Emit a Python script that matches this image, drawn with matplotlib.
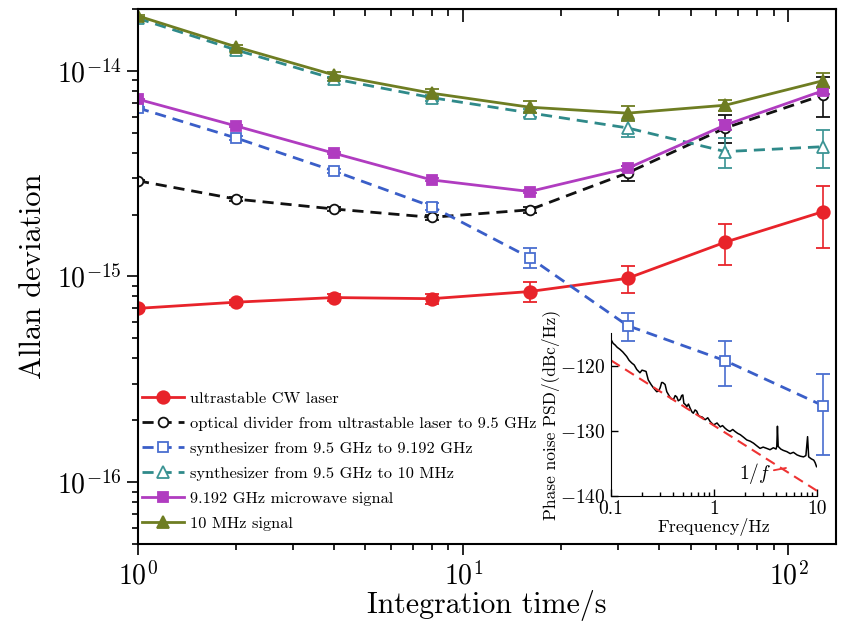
import numpy as np
import matplotlib
matplotlib.use("Agg")
import matplotlib.pyplot as plt
from matplotlib.lines import Line2D

plt.rcParams['font.family'] = ['cmr10', 'DejaVu Serif']
plt.rcParams['mathtext.fontset'] = 'cm'
plt.rcParams['axes.formatter.use_mathtext'] = True
plt.rcParams['axes.unicode_minus'] = False

# Averaging times (s)
tau = [1, 2, 4, 8, 16, 32, 64, 128]

# Allan deviation of each chain element
laser = [7.0e-16, 7.5e-16, 7.9e-16, 7.8e-16, 8.45e-16, 9.8e-16, 1.47e-15, 2.07e-15]
laser_err = [0.02e-15, 0.02e-15, 0.03e-15, 0.045e-15, 0.095e-15, 0.15e-15, 0.33e-15, 0.7e-15]

divider = [2.92e-15, 2.38e-15, 2.13e-15, 1.94e-15, 2.11e-15, 3.19e-15, 5.28e-15, 7.64e-15]
divider_err = [0.03e-15, 0.05e-15, 0.05e-15, 0.06e-15, 0.08e-15, 0.26e-15, 0.8e-15, 1.7e-15]

synth_9192 = [6.6e-15, 4.72e-15, 3.26e-15, 2.19e-15, 1.236e-15, 5.77e-16, 3.89e-16, 2.35e-16]
synth_9192_err = [0.1e-15, 0.1e-15, 0.08e-15, 0.08e-15, 0.135e-15, 0.09e-15, 0.094e-15, 0.1e-15]

synth_10m = [1.80e-14, 1.265e-14, 9.15e-15, 7.41e-15, 6.25e-15, 5.28e-15, 4.05e-15, 4.28e-15]
synth_10m_err = [0.2e-15, 0.2e-15, 0.2e-15, 0.25e-15, 0.3e-15, 0.5e-15, 0.68e-15, 0.9e-15]

microwave = [7.28e-15, 5.40e-15, 3.98e-15, 2.95e-15, 2.59e-15, 3.36e-15, 5.46e-15, 8.02e-15]
microwave_err = [0.05e-15, 0.05e-15, 0.05e-15, 0.05e-15, 0.05e-15, 0.1e-15, 0.3e-15, 0.3e-15]

signal_10m = [1.85e-14, 1.31e-14, 9.56e-15, 7.79e-15, 6.66e-15, 6.23e-15, 6.81e-15, 8.97e-15]
signal_10m_err = [0.2e-15, 0.2e-15, 0.3e-15, 0.35e-15, 0.45e-15, 0.5e-15, 0.4e-15, 0.75e-15]

labels = [
    "ultrastable CW laser",
    "optical divider from ultrastable laser to 9.5 GHz",
    "synthesizer from 9.5 GHz to 9.192 GHz",
    "synthesizer from 9.5 GHz to 10 MHz",
    "9.192 GHz microwave signal",
    "10 MHz signal",
]

# Phase noise PSD of the reference (inset)
psd_freq = [0.1, 0.105, 0.109, 0.115, 0.122, 0.13, 0.142, 0.15, 0.159, 0.168, 0.178, 0.191,
            0.2, 0.21, 0.219, 0.23, 0.245, 0.258, 0.278, 0.29, 0.3, 0.31, 0.318, 0.335,
            0.348, 0.369, 0.385, 0.404, 0.42, 0.435, 0.45, 0.47, 0.485, 0.498, 0.51,
            0.53, 0.544, 0.565, 0.585, 0.61, 0.63, 0.655, 0.68, 0.705, 0.73, 0.77, 0.82,
            0.87, 0.92, 0.99, 1.07, 1.15, 1.21, 1.28, 1.35, 1.43, 1.52, 1.6, 1.7, 1.8,
            1.94, 2.08, 2.25, 2.42, 2.6, 2.8, 3.0, 3.25, 3.5, 3.77, 4.0, 4.07, 4.13,
            4.2, 4.45, 4.7, 5.1, 5.5, 5.9, 6.4, 6.9, 7.4, 7.8, 8.1, 8.3, 8.8, 9.3, 9.6, 9.9]
psd_db = [-116.0, -116.6, -116.8, -117.2, -117.5, -117.9, -118.6, -119.2, -119.6, -119.9, -120.6, -121.1,
          -120.7, -120.8, -120.9, -122.2, -122.9, -123.4, -124.0, -123.9, -123.4, -122.6, -122.6, -122.9,
          -124.0, -124.7, -125.1, -125.2, -124.6, -124.8, -125.4, -125.2, -124.6, -124.5, -125.8,
          -126.0, -126.3, -125.9, -126.5, -127.1, -127.3, -126.8, -127.0, -127.6, -127.8, -127.9, -128.3,
          -128.0, -128.6, -129.1, -128.8, -129.4, -129.2, -129.6, -129.9, -130.1, -129.8, -130.1, -130.4, -130.6,
          -131.0, -131.4, -131.6, -131.9, -132.3, -132.7, -132.5, -132.7, -132.9, -132.6, -132.8, -132.4, -129.3,
          -132.4, -132.8, -133.0, -133.2, -133.5, -133.3, -133.7, -133.9, -134.0, -133.8, -130.9, -134.0,
          -134.3, -134.5, -134.9, -135.5]
fit_freq = [0.1, 10]
fit_db = [-119.2, -139.2]

W, H = 843, 622
fig = plt.figure(figsize=(W / 100, H / 100), dpi=100)
ax = fig.add_axes([138 / W, 1 - 544 / H, (836 - 138) / W, (544 - 9) / H])

dash = (0, (4, 2.5))
series = [
    (laser, laser_err, dict(color='#e8232a', ls='-', marker='o', ms=9, mfc='#e8232a', mec='#e8232a')),
    (divider, divider_err, dict(color='#111111', ls=dash, marker='o', ms=7, mfc='white', mec='#111111')),
    (synth_9192, synth_9192_err, dict(color='#3a5ec8', ls=dash, marker='s', ms=7, mfc='white', mec='#4a6ed0')),
    (synth_10m, synth_10m_err, dict(color='#2f8a8a', ls=dash, marker='^', ms=8, mfc='white', mec='#3b9494')),
    (microwave, microwave_err, dict(color='#b03cc0', ls='-', marker='s', ms=7, mfc='#b03cc0', mec='#b03cc0')),
    (signal_10m, signal_10m_err, dict(color='#6e7d22', ls='-', marker='^', ms=9, mfc='#6e7d22', mec='#6e7d22')),
]

handles = []
for (vals, errs, st), lab in zip(series, labels):
    ax.errorbar(tau, vals, yerr=errs, color=st['color'], ls=st['ls'], lw=2,
                marker=st['marker'], ms=st['ms'], mfc=st['mfc'], mec=st['mec'], mew=1.3,
                ecolor=st['mec'], elinewidth=1.2, capsize=5, capthick=1.2)
    handles.append(Line2D([], [], color=st['color'], ls=st['ls'], lw=2, marker=st['marker'],
                          ms=st['ms'], mfc=st['mfc'], mec=st['mec'], mew=1.3, label=lab))

ax.set_xscale('log')
ax.set_yscale('log')
ax.set_xlim(1, 140)
ax.set_ylim(5e-17, 2e-14)
ax.set_xlabel("Integration time/s", fontsize=21.5, labelpad=-1)
ax.set_ylabel("Allan deviation", fontsize=22, labelpad=7)
ax.tick_params(axis='both', which='major', direction='out', length=8, width=1.2, labelsize=20)
ax.tick_params(axis='both', which='minor', direction='out', length=4.5, width=1.2)
ax.tick_params(axis='x', pad=5)
for s in ax.spines.values():
    s.set_linewidth(1.5)

top = ax.secondary_xaxis('top')
top.tick_params(which='major', direction='in', length=9, width=1.2, labeltop=False)
top.tick_params(which='minor', direction='in', length=5, width=1.2)

ax.legend(handles=handles, loc='lower left', bbox_to_anchor=(-0.004, 0.012), frameon=False,
          fontsize=11.8, handlelength=2.6, handletextpad=0.35, labelspacing=0.64,
          borderaxespad=0.0)

# Inset: phase noise PSD
ins = fig.add_axes([611 / W, 1 - 496 / H, (817 - 611) / W, (496 - 333) / H])
ins.plot(psd_freq, psd_db, color='black', lw=1.1)
ins.plot(fit_freq, fit_db, color='#ee3333', lw=1.5, ls=(0, (5, 3)))
ins.set_xscale('log')
ins.set_xlim(0.1, 10)
ins.set_ylim(-140, -115)
ins.set_xticks([0.1, 1, 10])
ins.set_xticklabels(["0.1", "1", "10"])
ins.set_yticks([-140, -130, -120])
ins.set_yticklabels(["$-140$", "$-130$", "$-120$"])
ins.tick_params(which='both', direction='in', labelsize=14, width=1)
ins.tick_params(axis='x', pad=3)
ins.tick_params(axis='y', pad=4)
ins.tick_params(which='major', length=5)
ins.tick_params(which='minor', length=3)
ins.spines['top'].set_visible(False)
ins.spines['right'].set_visible(False)
ins.patch.set_alpha(0)
ins.set_xlabel("Frequency/Hz", fontsize=13, labelpad=0)
ins.set_ylabel("Phase noise PSD/(dBc/Hz)", fontsize=12.5, labelpad=0)
ins.annotate("$1/f$", xy=(5.0, -135.7), xytext=(2.5, -136.6), fontsize=14,
             ha='center', va='center',
             arrowprops=dict(arrowstyle='-', color='#ee3333', lw=1.3, shrinkA=10, shrinkB=0))

fig.savefig("out.png", dpi=100)
